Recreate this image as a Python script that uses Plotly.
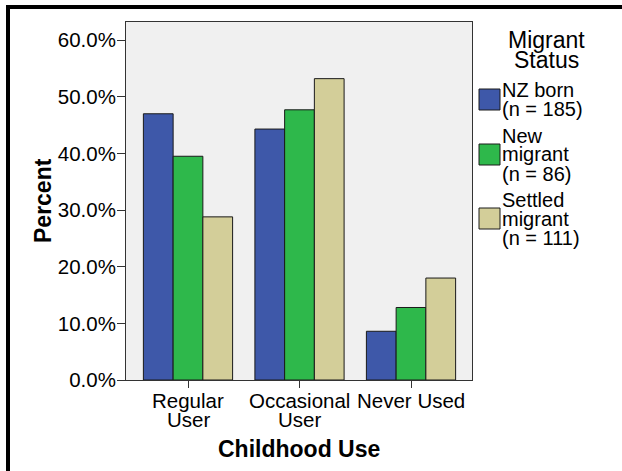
import plotly.graph_objects as go

categories = ["Regular User", "Occasional User", "Never Used"]
category_lines = [["Regular", "User"], ["Occasional", "User"], ["Never Used"]]
series_names = ["NZ born", "New migrant", "Settled migrant"]
legend_title_lines = ["Migrant", "Status"]
legend_lines = [["NZ born", "(n = 185)"], ["New", "migrant", "(n = 86)"], ["Settled", "migrant", "(n = 111)"]]
nz_born = [47.0, 44.3, 8.6]
new_migrant = [39.5, 47.7, 12.8]
settled_migrant = [28.8, 53.2, 18.0]
series_values = [nz_born, new_migrant, settled_migrant]
colors = ["#3e58a9", "#2eb84b", "#d3ce99"]
y_ticks = [0, 10, 20, 30, 40, 50, 60]

FONT = "Liberation Sans, Arial, sans-serif"
W, H = 622, 471
L, R, T, B = 126, 472, 22, 380  # plot area pixels


def px(x):
    return (x - L) / (R - L)


def py(y):
    return (B - y) / (B - T)


fig = go.Figure()
for name, vals, col in zip(series_names, series_values, colors):
    fig.add_trace(go.Bar(
        x=categories, y=vals, name=name,
        marker=dict(color=col, line=dict(color="#1a1a1a", width=1)),
        showlegend=False,
    ))

annotations = []
# category labels
for cat, lines in zip(categories, category_lines):
    for i, ln in enumerate(lines):
        annotations.append(dict(
            x=cat, xref="x", y=py(400 + 19.5 * i), yref="paper", yanchor="middle", xanchor="center",
            text=ln, showarrow=False,
            font=dict(family=FONT, size=20.5, color="#000"),
        ))
annotations.append(dict(
    x=0.5, xref="paper", y=py(448.5), yref="paper", yanchor="middle", xanchor="center",
    text="<b>Childhood Use</b>", showarrow=False,
    font=dict(family=FONT, size=23, color="#000"),
))
annotations.append(dict(
    x=px(43), xref="paper", y=0.5, yref="paper", yanchor="middle", xanchor="center",
    text="<b>Percent</b>", textangle=-90, showarrow=False,
    font=dict(family=FONT, size=23, color="#000"),
))
# legend title
for i, ln in enumerate(legend_title_lines):
    annotations.append(dict(
        x=px(546), xref="paper", y=py(40 + 20 * i), yref="paper", yanchor="middle", xanchor="center",
        text=ln, showarrow=False, font=dict(family=FONT, size=23, color="#000"),
    ))

shapes = []
sq_tops = [89, 144, 208]
for k, (lines, col) in enumerate(zip(legend_lines, colors)):
    shapes.append(dict(type="rect", xref="paper", yref="paper",
                       x0=px(479), x1=px(500), y0=py(sq_tops[k]), y1=py(sq_tops[k] + 21),
                       fillcolor=col, line=dict(color="#1a1a1a", width=1)))
    center = sq_tops[k] + 10.5
    n = len(lines)
    for i, ln in enumerate(lines):
        yc = center + (i - (n - 1) / 2) * 19
        annotations.append(dict(
            x=px(500), xref="paper", y=py(yc), yref="paper",
            yanchor="middle", xanchor="left", text=ln, showarrow=False,
            font=dict(family=FONT, size=20, color="#000"),
        ))

# outer frame (top and left)
shapes.append(dict(type="path", xref="paper", yref="paper",
                   path=f"M {px(8)} {py(H + 10)} L {px(8)} {py(7)} L {px(W + 10)} {py(7)}",
                   line=dict(color="#000", width=4)))

fig.update_layout(
    width=W, height=H,
    margin=dict(l=L, r=W - R, t=T, b=H - B, pad=0),
    paper_bgcolor="white", plot_bgcolor="#f0f0f0",
    barmode="group", bargap=0.2, bargroupgap=0,
    font=dict(family=FONT, size=20.5, color="#000"),
    xaxis=dict(
        range=[-0.556, 2.547], showticklabels=False, ticks="outside", ticklen=7,
        tickcolor="#333", showgrid=False, zeroline=False,
        showline=True, linecolor="#333", linewidth=1, mirror=True,
    ),
    yaxis=dict(
        range=[0, 63.2], tickvals=y_ticks, ticktext=[f"{v:.1f}%" for v in y_ticks],
        ticks="outside", ticklen=8, tickcolor="#333", showgrid=False, zeroline=False,
        showline=True, linecolor="#333", linewidth=1, mirror=True,
        tickfont=dict(family=FONT, size=20.5, color="#000"),
        ticklabelstandoff=-3,
    ),
    annotations=annotations, shapes=shapes,
)

fig.write_html("out.html", config={"displayModeBar": False},
               post_script="document.body.style.margin='0px';")
